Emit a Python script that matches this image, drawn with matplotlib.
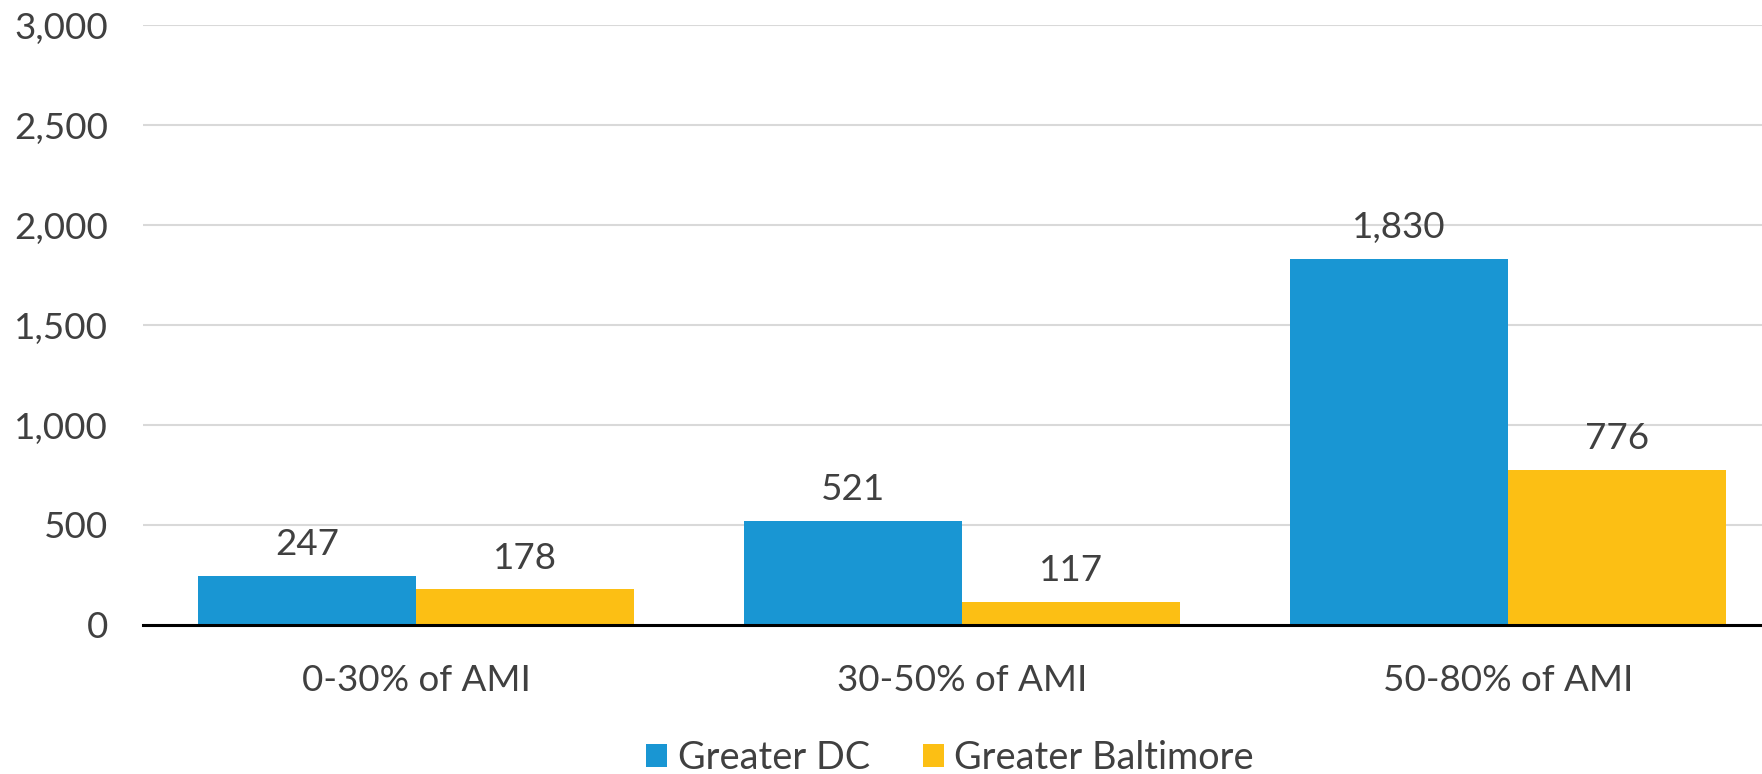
import numpy as np
import matplotlib.pyplot as plt
from matplotlib.ticker import FuncFormatter

# Dades
categories = ["0-30% of AMI", "30-50% of AMI", "50-80% of AMI"]
series_names = ["Greater DC", "Greater Baltimore"]
greater_dc = [247, 521, 1830]
greater_baltimore = [178, 117, 776]
yticks = [0, 500, 1000, 1500, 2000, 2500, 3000]

colors = ["#1996D3", "#FCBF14"]
text_color = "#404040"

plt.rcParams["font.family"] = ["Lato", "DejaVu Sans"]

fig = plt.figure(figsize=(17.62, 7.74), dpi=100)
ax = fig.add_axes([143 / 1762, 149 / 774, 1638 / 1762, 600 / 774])

x = np.arange(len(categories))
width = 0.4

for k, (vals, nom) in enumerate(zip([greater_dc, greater_baltimore], series_names)):
    pos = x + (k - 0.5) * width
    ax.bar(pos, vals, width=width, color=colors[k], label=nom, zorder=2)
    for p, v in zip(pos, vals):
        ax.annotate(f"{v:,}", (p, v), xytext=(0, 22.5), textcoords="offset points",
                    ha="center", va="center", fontsize=26.5, color=text_color)

ax.set_xlim(-0.5, 2.5)
ax.set_ylim(0, 3000)
ax.set_yticks(yticks)
ax.yaxis.set_major_formatter(FuncFormatter(lambda v, _: f"{int(v):,}"))
ax.set_xticks(x)
ax.set_xticklabels(categories)

ax.grid(True, axis="y", color="#d9d9d9", linewidth=1.5, zorder=0)
ax.set_axisbelow(True)
for s in ["top", "right", "left"]:
    ax.spines[s].set_visible(False)
ax.spines["bottom"].set_color("black")
ax.spines["bottom"].set_linewidth(2.2)
ax.spines["bottom"].set_zorder(3)

ax.tick_params(axis="y", length=0, pad=25, labelsize=26.5, labelcolor=text_color)
ax.tick_params(axis="x", length=0, pad=28, labelsize=26.5, labelcolor=text_color)

# Llegenda a sota, centrada
leg = fig.legend(loc="center", bbox_to_anchor=(950 / 1762, 1 - 758 / 774), ncol=2,
                 frameon=False, fontsize=27.3, handlelength=0.55, handleheight=0.55,
                 handletextpad=0.27, columnspacing=1.4, borderpad=0)
for t in leg.get_texts():
    t.set_color(text_color)

fig.savefig("out.png", dpi=100)
